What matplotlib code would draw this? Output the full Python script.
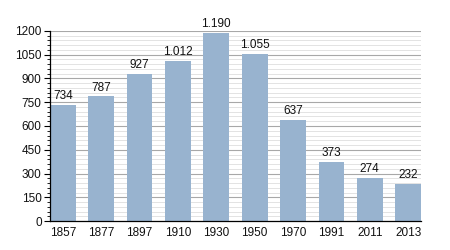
import matplotlib.pyplot as plt
from matplotlib.ticker import MultipleLocator

plt.rcParams['font.family'] = ['Liberation Sans', 'DejaVu Sans']

years = ["1857", "1877", "1897", "1910", "1930", "1950", "1970", "1991", "2011", "2013"]
population = [734, 787, 927, 1012, 1190, 1055, 637, 373, 274, 232]
labels = ["734", "787", "927", "1.012", "1.190", "1.055", "637", "373", "274", "232"]

barColor = "#98b3cf"
w = 0.67

fig = plt.figure(figsize=(4.5, 2.5), dpi=100)
ax = fig.add_axes([50/450, 1 - 221/250, 371/450, 190/250])

x = list(range(len(years)))
ax.bar(x, population, width=w, color=barColor, zorder=3)
for i in x:
    ax.text(i, population[i] + 18, labels[i], ha='center', va='bottom', fontsize=8.5, color='#111111', zorder=4)

ax.set_xlim(-w/2, len(years) - 1 + w/2)
ax.set_ylim(0, 1200)
ax.yaxis.set_major_locator(MultipleLocator(150))
ax.yaxis.set_minor_locator(MultipleLocator(30))
ax.grid(which='major', axis='y', color='#a8a8a8', linewidth=0.8, zorder=1)
ax.grid(which='minor', axis='y', color='#dedede', linewidth=0.6, zorder=1)
ax.set_xticks(x)
ax.set_xticklabels(years)
ax.tick_params(axis='x', length=0, labelsize=8.5, pad=4, labelcolor='#111111')
ax.tick_params(axis='y', which='major', length=4, width=0.8, labelsize=8.5, pad=2, labelcolor='#111111')
ax.tick_params(axis='y', which='minor', length=2, width=0.6)
for s in ['top', 'right']:
    ax.spines[s].set_visible(False)
ax.spines['left'].set_linewidth(0.9)
ax.spines['bottom'].set_linewidth(0.9)
ax.spines['left'].set_zorder(5)
ax.spines['bottom'].set_zorder(5)

fig.savefig('out.png', dpi=100)
